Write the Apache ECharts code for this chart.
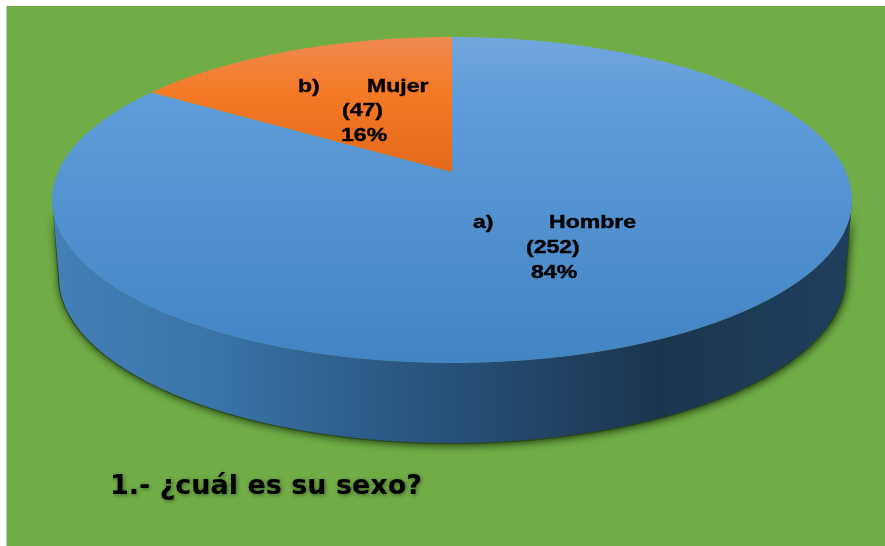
<!DOCTYPE html>
<html>
<head>
<meta charset="utf-8">
<style>
  html, body { margin: 0; padding: 0; background: #fff; }
  #chart { position: absolute; left: 0; top: 0; width: 885px; height: 546px; }
</style>
<script src="https://cdn.jsdelivr.net/npm/echarts@6/dist/echarts.min.js"></script>
</head>
<body>
<div id="chart"></div>
<script>
var letters = ['a)', 'b)'];
var categories = ['Hombre', 'Mujer'];
var values = [252, 47];
var percents = ['84%', '16%'];
var questionText = '1.- ¿cuál es su sexo?';

var total = values.reduce(function (a, b) { return a + b; }, 0);

// geometria del disco
var top3d = { cx: 452, cy: 200, rx: 400, ry: 163 };
var bottom3d = { cx: 452, cy: 277, rx: 393, ry: 166 };
var shadow3d = { cx: 452, cy: 277, rx: 394, ry: 167 };
var perspective = 0.172; // el centro real del disco queda arriba del centro de la elipse

// posicion de las etiquetas por rebanada (letra, nombre, cantidad, porcentaje)
var labelSpots = [
  { letter: [473, 223], name: [549, 223], count: [526, 248], pct: [531, 273] },
  { letter: [298, 87], name: [367, 87], count: [342, 111], pct: [341, 136] }
];

// angulo del dato (horario desde arriba) -> angulo sobre la elipse
function toEllipseAngle(theta) {
  var u = Math.sin(theta), v = Math.cos(theta);
  var d = 1 + perspective * v;
  var p = u * Math.sqrt(1 - perspective * perspective) / d;
  var q = (v + perspective) / d;
  return Math.atan2(p, q);
}

function onEllipse(e, phi) {
  return [e.cx + e.rx * Math.sin(phi), e.cy - e.ry * Math.cos(phi)];
}

function arcPoints(e, from, to) {
  var pts = [];
  var n = Math.max(2, Math.ceil(Math.abs(to - from) / 0.01));
  for (var i = 0; i <= n; i++) {
    pts.push(onEllipse(e, from + (to - from) * i / n));
  }
  return pts;
}

function sliceRange(index) {
  var before = 0;
  for (var i = 0; i < index; i++) before += values[i];
  var start = before / total * Math.PI * 2;
  var end = (before + values[index]) / total * Math.PI * 2;
  var a = toEllipseAngle(start);
  var b = toEllipseAngle(end);
  if (a < 0) a += Math.PI * 2;
  while (b <= a) b += Math.PI * 2;
  return [a, b];
}

var topFills = [
  new echarts.graphic.LinearGradient(0, 37, 0, 363, [
    { offset: 0, color: '#72a6dd' },
    { offset: 0.2, color: '#5f9cd9' },
    { offset: 1, color: '#4284c4' }
  ], true),
  new echarts.graphic.LinearGradient(0, 37, 0, 172, [
    { offset: 0, color: '#ee8a50' },
    { offset: 0.4, color: '#f47a27' },
    { offset: 1, color: '#e4691b' }
  ], true)
];

var wallFill = new echarts.graphic.LinearGradient(52, 0, 852, 0, [
  { offset: 0, color: '#437fb8' },
  { offset: 0.2, color: '#3a74a9' },
  { offset: 0.37, color: '#2e5f8c' },
  { offset: 0.5, color: '#275079' },
  { offset: 0.62, color: '#224465' },
  { offset: 0.76, color: '#1b354f' },
  { offset: 1, color: '#1f3f5e' }
], true);

function renderWall(params) {
  var r = sliceRange(params.dataIndex);
  var from = Math.max(r[0], Math.PI / 2);
  var to = Math.min(r[1], Math.PI * 1.5);
  if (to <= from) return null;
  var wall = arcPoints(top3d, from, to).concat(arcPoints(bottom3d, to, from));
  var shade = arcPoints(top3d, from, to).concat(arcPoints(shadow3d, to, from));
  return {
    type: 'group',
    children: [
      {
        type: 'polygon',
        shape: { points: shade },
        style: {
          fill: '#2a4512',
          shadowBlur: 9,
          shadowColor: 'rgba(25,48,10,1)',
          shadowOffsetX: 1,
          shadowOffsetY: 1
        }
      },
      { type: 'polygon', shape: { points: wall }, style: { fill: wallFill } }
    ]
  };
}

function renderTop(params) {
  var i = params.dataIndex;
  var r = sliceRange(i);
  var apex = [top3d.cx, top3d.cy - top3d.ry * perspective];
  return {
    type: 'polygon',
    shape: { points: [apex].concat(arcPoints(top3d, r[0], r[1])) },
    style: { fill: topFills[i] }
  };
}

function labelText(pos, text) {
  return {
    type: 'text',
    x: pos[0],
    y: pos[1],
    scaleX: 1.28,
    style: {
      text: text,
      fill: '#000',
      stroke: '#000',
      lineWidth: 0.4,
      font: 'bold 18px "Liberation Sans"',
      verticalAlign: 'middle'
    }
  };
}

function renderLabel(params) {
  var i = params.dataIndex;
  var s = labelSpots[i];
  return {
    type: 'group',
    children: [
      labelText(s.letter, letters[i]),
      labelText(s.name, categories[i]),
      labelText(s.count, '(' + values[i] + ')'),
      labelText(s.pct, percents[i])
    ]
  };
}

var chart = echarts.init(document.getElementById('chart'), null, { renderer: 'canvas' });
chart.setOption({
  animation: false,
  title: {
    text: questionText,
    left: 105,
    top: 468,
    textStyle: {
      fontFamily: 'DejaVu Sans',
      fontWeight: 'bold',
      fontSize: 27,
      color: '#000',
      textShadowColor: 'rgba(0,0,0,0.45)',
      textShadowBlur: 4,
      textShadowOffsetX: 1,
      textShadowOffsetY: 1
    }
  },
  graphic: [
    { type: 'rect', z: -10, shape: { x: 7, y: 6, width: 878, height: 540 }, style: { fill: '#70ad47' } },
    { type: 'rect', z: -10, shape: { x: 6, y: 6, width: 1, height: 540 }, style: { fill: '#c8c8c8' } }
  ],
  series: [
    { type: 'custom', coordinateSystem: 'none', silent: true, z: 1, data: values, renderItem: renderWall },
    { type: 'custom', coordinateSystem: 'none', silent: true, z: 2, data: values, renderItem: renderTop },
    { type: 'custom', coordinateSystem: 'none', silent: true, z: 3, data: values, renderItem: renderLabel }
  ]
});
</script>
</body>
</html>
